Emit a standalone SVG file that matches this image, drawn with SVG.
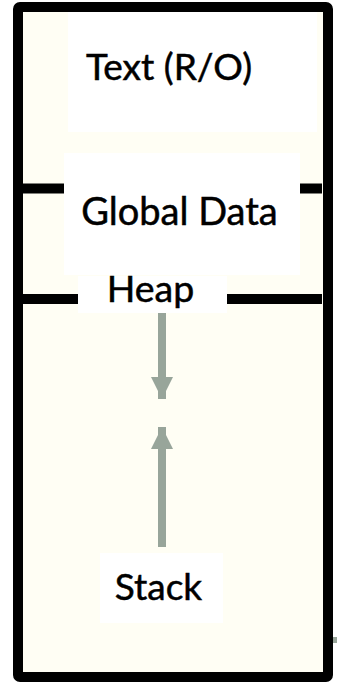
<svg xmlns="http://www.w3.org/2000/svg" width="337" height="682" viewBox="0 0 337 682">
<style>
.lbl{font-family:Lato,"Open Sans","Liberation Sans",sans-serif;fill:#000;stroke:#000;stroke-width:0.5;text-anchor:middle}
.wbox{fill:#fff}
.div{stroke:#000;stroke-width:10}
</style>
<defs>
<marker id="ah" viewBox="0 0 22 22" refX="22" refY="11" markerWidth="22" markerHeight="22" markerUnits="userSpaceOnUse" orient="auto">
<path d="M0,0 L22,11 L0,22 Z" fill="#98A59A"/>
</marker>
</defs>
<rect width="337" height="682" fill="#fff"/>
<g id="memory">
<rect x="18" y="7" width="310" height="670" rx="2" fill="#FFFEF4" stroke="#000" stroke-width="10"/>
<line class="div" x1="23" y1="188.5" x2="322" y2="188.5" stroke-width="9"/>
<line class="div" x1="23" y1="299" x2="322" y2="299"/>
</g>
<g id="text-seg">
<rect class="wbox" x="68" y="12" width="249" height="120"/>
<text class="lbl" x="169" y="80" font-size="37">Text (R/O)</text>
</g>
<g id="global-data">
<rect class="wbox" x="64" y="153" width="236" height="122"/>
<text class="lbl" x="179.5" y="225" font-size="38">Global Data</text>
</g>
<g id="heap">
<rect class="wbox" x="78" y="276" width="149" height="37"/>
<text class="lbl" x="150.5" y="302" font-size="37.5">Heap</text>
</g>
<g id="stack">
<rect class="wbox" x="100" y="553" width="123" height="70"/>
<text class="lbl" x="158.5" y="600" font-size="37">Stack</text>
</g>
<g id="connectors">
<line x1="162" y1="313" x2="162" y2="399" stroke="#98A59A" stroke-width="8" marker-end="url(#ah)"/>
<line x1="162" y1="547" x2="162" y2="427" stroke="#98A59A" stroke-width="8" marker-end="url(#ah)"/>
</g>
<rect x="333" y="637" width="4" height="6" fill="#98A59A"/>
</svg>
